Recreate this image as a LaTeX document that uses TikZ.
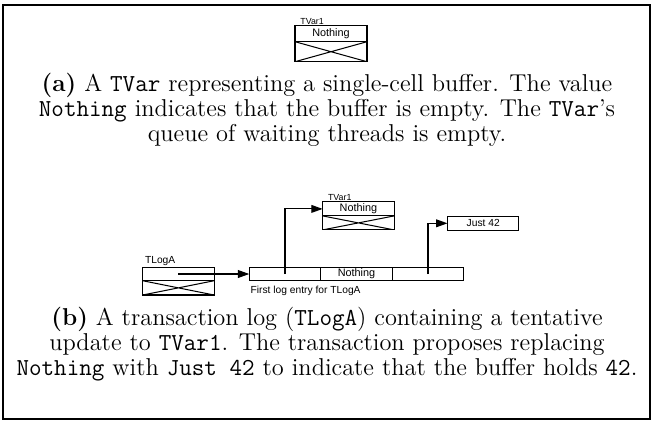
\documentclass[tikz,border=0pt]{standalone}
\usepackage{fontspec}
\newfontfamily\arial{Liberation Sans}
\usetikzlibrary{positioning,arrows.meta}

\newcommand{\px}{0.488pt}

\tikzset{
  cell/.style={draw, line width=0.5pt, outer sep=0pt, inner sep=0pt,
    minimum width=71.5*\px, minimum height=14*\px,
    font=\arial\fontsize{5.3}{6}\selectfont},
  queue/.style={cell, path picture={
    \draw (path picture bounding box.north west) -- (path picture bounding box.south east)
          (path picture bounding box.south west) -- (path picture bounding box.north east);}},
  tag/.style={inner sep=0pt, anchor=south west, font=\arial\fontsize{5}{6}\selectfont},
  vartag/.style={tag, font=\arial\fontsize{4.3}{5}\selectfont},
  ptr/.style={line width=0.5pt, -{Triangle[length=5.5pt,width=3.8pt]}},
  caption/.style={align=center, inner sep=0pt, anchor=base, font=\fontsize{11.9}{12}\selectfont},
}

\begin{document}
\begin{tikzpicture}[x=\px, y=-\px]
  \useasboundingbox (0,0) rectangle (654,422);
  \draw[line width=1pt] (3,5) rectangle (650,419);

  % (a) the TVar alone
  \node[cell, minimum width=72*\px, minimum height=16*\px] (tva) at (331,33.7) {Nothing};
  \node[queue, minimum width=72*\px, minimum height=20*\px, below=0pt of tva] (tvaq) {};
  \node[vartag, xshift=5*\px, yshift=0.5*\px] (tvalbl) at (tva.north west) {TVar1};
  \node[caption] (capa) at (327,141) {\textbf{(a)} A \texttt{TVar} representing a single-cell buffer. The value\\
    \texttt{Nothing} indicates that the buffer is empty. The \texttt{TVar}'s\\
    queue of waiting threads is empty.};

  % (b) the log
  \node[cell] (tvb) at (358.4,208.9) {Nothing};
  \node[queue, below=0pt of tvb] (tvbq) {};
  \node[vartag, xshift=5*\px, yshift=1*\px] (tvblbl) at (tvb.north west) {TVar1};

  \node[cell, font=\arial\fontsize{5}{6}\selectfont] (just) at (483.2,223.3) {Just 42};

  \node[cell, minimum height=13.4*\px] (tlog) at (178.4,274) {};
  \node[queue, minimum height=14.3*\px, below=0pt of tlog] (tlogq) {};
  \node[tag, xshift=2*\px, yshift=1.5*\px] (tloglbl) at (tlog.north west) {TLogA};

  \node[cell, minimum height=13.4*\px] (e1) at (285,274) {};
  \node[cell, minimum height=13.4*\px, right=0pt of e1] (e2) {Nothing};
  \node[cell, minimum height=13.4*\px, right=0pt of e2] (e3) {};
  \node[tag, anchor=north west, xshift=1*\px, yshift=-5*\px] (e1lbl) at (e1.south west) {First log entry for TLogA};

  \draw[ptr] (tlog.center) -- (e1.west);
  \draw[ptr] (e1.center) |- (tvb.west);
  \draw[ptr] (e3.center) |- (just.west);

  \node[caption] (capb) at (327,375) {\textbf{(b)} A transaction log (\texttt{TLogA}) containing a tentative\\
    update to \texttt{TVar1}. The transaction proposes replacing\\
    \texttt{Nothing} with \texttt{Just 42} to indicate that the buffer holds \texttt{42}.};
\end{tikzpicture}
\end{document}
